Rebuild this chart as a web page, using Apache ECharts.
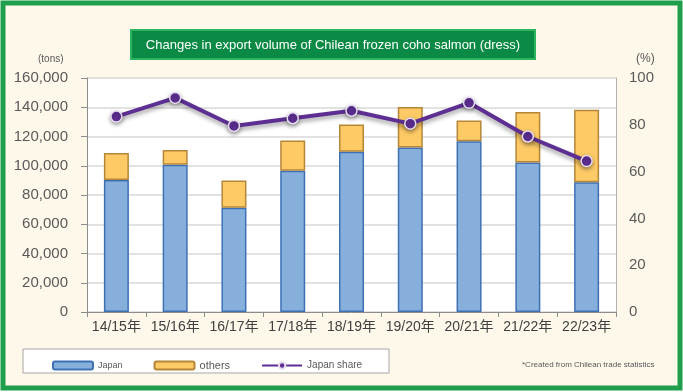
<!DOCTYPE html>
<html><head><meta charset="utf-8">
<script src="https://cdn.jsdelivr.net/npm/echarts@6/dist/echarts.min.js"></script>
<style>html,body{margin:0;padding:0;background:#fff}#c{width:683px;height:392px}</style>
</head><body><div id="c"></div>
<script>
const categories = ['14/15年','15/16年','16/17年','17/18年','18/19年','19/20年','20/21年','21/22年','22/23年'];
const japan = [90200, 100700, 71200, 96600, 109600, 112400, 116800, 102200, 88700];
const others = [18500, 10100, 18800, 20600, 18600, 27700, 14200, 34500, 49600];
const japanShare = [83.5, 91.5, 79.5, 82.8, 86, 80.5, 89.4, 75, 64.5];
const leftTicks = {min: 0, max: 160000, interval: 20000};
const rightTicks = {min: 0, max: 100, interval: 20};

const FONT = '"Liberation Sans", Arial, "Noto Sans CJK JP", sans-serif';
const chart = echarts.init(document.getElementById('c'));
chart.setOption({
  animation: false,
  textStyle: {fontFamily: FONT},
  graphic: [
    {type: 'rect', z: -10, shape: {x: 3, y: 3, width: 677, height: 385}, style: {fill: '#fdf8ea', stroke: '#1f9e4b', lineWidth: 5}},
    {type: 'rect', z: 10, shape: {x: 131, y: 30, width: 404, height: 29}, style: {fill: '#0b8a45', stroke: '#2cb55e', lineWidth: 2}},
    {type: 'text', z: 11, x: 333, y: 45, style: {text: 'Changes in export volume of Chilean frozen coho salmon (dress)', fill: '#fff', font: '13px ' + FONT, textAlign: 'center', textVerticalAlign: 'middle'}},
    {type: 'text', x: 38, y: 59, style: {text: '(tons)', fill: '#595959', font: '10px ' + FONT, textVerticalAlign: 'middle'}},
    {type: 'text', x: 636, y: 59, style: {text: '(%)', fill: '#595959', font: '12px ' + FONT, textVerticalAlign: 'middle'}},
    {type: 'rect', z: 0, shape: {x: 23, y: 349, width: 366, height: 24}, style: {fill: '#fff', stroke: '#a6a6a6', lineWidth: 1}},
    {type: 'text', x: 522, y: 365, style: {text: '*Created from Chilean trade statistics', fill: '#595959', font: '8px ' + FONT, textVerticalAlign: 'middle'}}
  ],
  legend: {
    left: 47, top: 355, itemWidth: 40, itemHeight: 8, itemGap: 31,
    textStyle: {fontSize: 10, color: '#595959'},
    data: [
      {name: 'Japan', textStyle: {fontSize: 9}},
      {name: 'others', textStyle: {fontSize: 11}},
      {name: 'Japan share'}
    ]
  },
  grid: {left: 87, right: 67, top: 78, bottom: 80, show: true, backgroundColor: '#fff', borderWidth: 0},
  xAxis: {
    type: 'category', data: categories,
    axisLine: {lineStyle: {color: '#8c8c8c', width: 1}},
    axisTick: {show: true, length: 5, lineStyle: {color: '#8c8c8c'}},
    axisLabel: {color: '#404040', fontSize: 14, margin: 8, interval: 0, fontFamily: FONT}
  },
  yAxis: [
    {type: 'value', min: leftTicks.min, max: leftTicks.max, interval: leftTicks.interval,
     axisLine: {show: true, lineStyle: {color: '#8c8c8c'}},
     axisTick: {show: true, length: 6, lineStyle: {color: '#8c8c8c'}},
     splitLine: {lineStyle: {color: '#d9d9d9', width: 1.5}},
     axisLabel: {color: '#5a5a5a', fontSize: 15, margin: 19, formatter: v => v.toLocaleString('en-US')}},
    {type: 'value', min: rightTicks.min, max: rightTicks.max, interval: rightTicks.interval,
     position: 'right',
     axisLine: {show: true, lineStyle: {color: '#b0b0b0'}},
     axisTick: {show: false},
     splitLine: {show: false},
     axisLabel: {color: '#5a5a5a', fontSize: 15, margin: 13}}
  ],
  series: [
    {name: 'Japan', type: 'bar', stack: 'v', data: japan, barWidth: 25,
     itemStyle: {color: '#86b0db', borderColor: '#3e70b4', borderWidth: 1.5}},
    {name: 'others', type: 'bar', stack: 'v', data: others, barWidth: 25,
     itemStyle: {color: '#fdca66', borderColor: '#b58638', borderWidth: 1.5}},
    {name: 'Japan share', type: 'line', yAxisIndex: 1, data: japanShare,
     symbol: 'circle', symbolSize: 11,
     lineStyle: {color: '#5e2f93', width: 4, shadowColor: 'rgba(0,0,0,0.35)', shadowBlur: 4, shadowOffsetY: 3},
     itemStyle: {color: '#5e2f93', borderColor: '#e6dcef', borderWidth: 1.5, shadowColor: 'rgba(0,0,0,0.35)', shadowBlur: 4, shadowOffsetY: 2}}
  ]
});
</script></body></html>
